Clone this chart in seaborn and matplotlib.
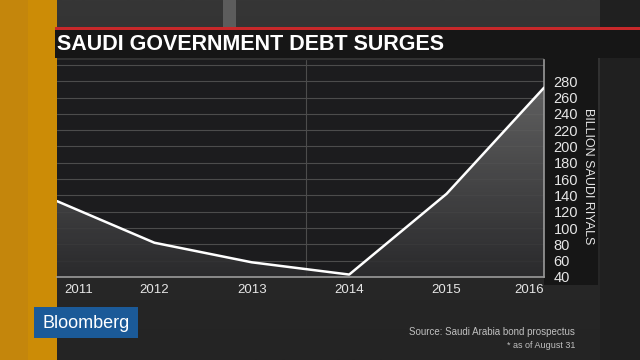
import numpy as np
import pandas as pd
import matplotlib
matplotlib.use("Agg")
import matplotlib.pyplot as plt
import matplotlib.transforms as mtransforms
from matplotlib.patches import Rectangle
import seaborn as sns

# data
years = [2011, 2012, 2013, 2014, 2015, 2016]
debt = [133, 82, 58, 43, 142, 272]
year_labels = ["2011", "2012", "2013", "2014", "2015", "2016"]
y_ticks = list(range(40, 281, 20))
title = "SAUDI GOVERNMENT DEBT SURGES"
unit_label = "BILLION SAUDI RIYALS"
source = "Source: Saudi Arabia bond prospectus"
note = "* as of August 31"

df = pd.DataFrame({"year": years, "debt": debt})

sns.set_theme(style="dark")
plt.rcParams["font.family"] = ["Liberation Sans", "DejaVu Sans"]

W, H = 640, 360
fig = plt.figure(figsize=(6.4, 3.6), dpi=100)
fig.patch.set_facecolor("#2a2a2a")


def px_rect(x0, y0, x1, y1, color, z=1):
    r = Rectangle((x0 / W, 1 - y1 / H), (x1 - x0) / W, (y1 - y0) / H,
                  transform=fig.transFigure, facecolor=color,
                  edgecolor="none", zorder=z)
    fig.add_artist(r)


# background
bg = fig.add_axes([0, 0, 1, 1], zorder=-1)
grad = np.linspace(0, 1, 256).reshape(-1, 1)
bg.imshow(grad, extent=[0, 1, 0, 1], aspect="auto",
          cmap=matplotlib.colors.LinearSegmentedColormap.from_list(
              "bg", ["#363636", "#2a2a2a", "#242424"]))
bg.set_axis_off()

px_rect(600, 0, 640, 360, "#202020")
px_rect(0, 0, 57, 360, "#cc8c06")
px_rect(0, 0, 28, 360, "#c4860c")
px_rect(223, 0, 236, 28, "#5c5c5c")
px_rect(55, 27, 640, 30, "#c8282a", z=2)
px_rect(55, 30, 640, 58, "#161616", z=2)
px_rect(544, 58, 598, 285, "#161616")
px_rect(34, 307, 138, 338, "#1b5a98", z=2)

# main chart
ax = fig.add_axes([57 / W, 1 - 277 / H, (544 - 57) / W, (277 - 60) / H], zorder=3)
ax.set_facecolor("#1c1c1e")
ax.set_xlim(2011, 2016)
ax.set_ylim(40, 306)

for v in y_ticks + [300]:
    ax.axhline(v, color="#4c4c4c", lw=0.8, zorder=1)
ax.axvline(2013.56, color="#4c4c4c", lw=0.8, zorder=1)

poly = ax.fill_between(df["year"], df["debt"], 40, facecolor="none", edgecolor="none")
fill_cmap = matplotlib.colors.LinearSegmentedColormap.from_list(
    "fill", ["#2c2c2e", "#6a6a6a"])
vgrad = np.linspace(0, 1, 256).reshape(-1, 1)
im = ax.imshow(vgrad, extent=[2011, 2016, 40, 280], origin="lower",
               aspect="auto", cmap=fill_cmap, alpha=0.9, zorder=2)
im.set_clip_path(poly.get_paths()[0], transform=ax.transData)

sns.lineplot(data=df, x="year", y="debt", ax=ax, color="white", lw=1.8, zorder=4)

for side in ["top", "left"]:
    ax.spines[side].set_visible(False)
ax.spines["right"].set_color("#9a9a9a")
ax.spines["bottom"].set_color("#9a9a9a")
ax.spines["right"].set_linewidth(1.2)
ax.spines["bottom"].set_linewidth(1.2)

ax.yaxis.tick_right()
ax.set_yticks(y_ticks)
ax.set_yticklabels([str(v) for v in y_ticks], color="#e6e6e6", fontsize=10.5)
ax.set_xticks(years)
ax.set_xticklabels(year_labels, color="#e6e6e6", fontsize=9.5)
ax.tick_params(axis="y", length=0, pad=7)
ax.tick_params(axis="x", length=0, pad=5)
ax.set_xlabel("")
ax.set_ylabel("")
ax.grid(False)

xl = ax.get_xticklabels()
xl[0].set_ha("left")
xl[0].set_transform(xl[0].get_transform() +
                    mtransforms.ScaledTranslation(7 / 100, 0, fig.dpi_scale_trans))
xl[-1].set_ha("right")

fig.text(588 / W, 1 - 176 / H, unit_label, rotation=-90, color="#e6e6e6",
         fontsize=9, ha="center", va="center", zorder=4)

fig.text(57 / W, 1 - 44 / H, title, color="white", fontsize=15.5,
         fontweight="bold", ha="left", va="center", zorder=4)

fig.text(86 / W, 1 - 323 / H, "Bloomberg", color="white", fontsize=13,
         ha="center", va="center", zorder=4)

fig.text(575 / W, 1 - 332 / H, source, color="#c0c0c0", fontsize=7,
         ha="right", va="center", zorder=4)
fig.text(575 / W, 1 - 345 / H, note, color="#c0c0c0", fontsize=6.5,
         ha="right", va="center", zorder=4)

fig.savefig("out.png", dpi=100, facecolor=fig.get_facecolor())
